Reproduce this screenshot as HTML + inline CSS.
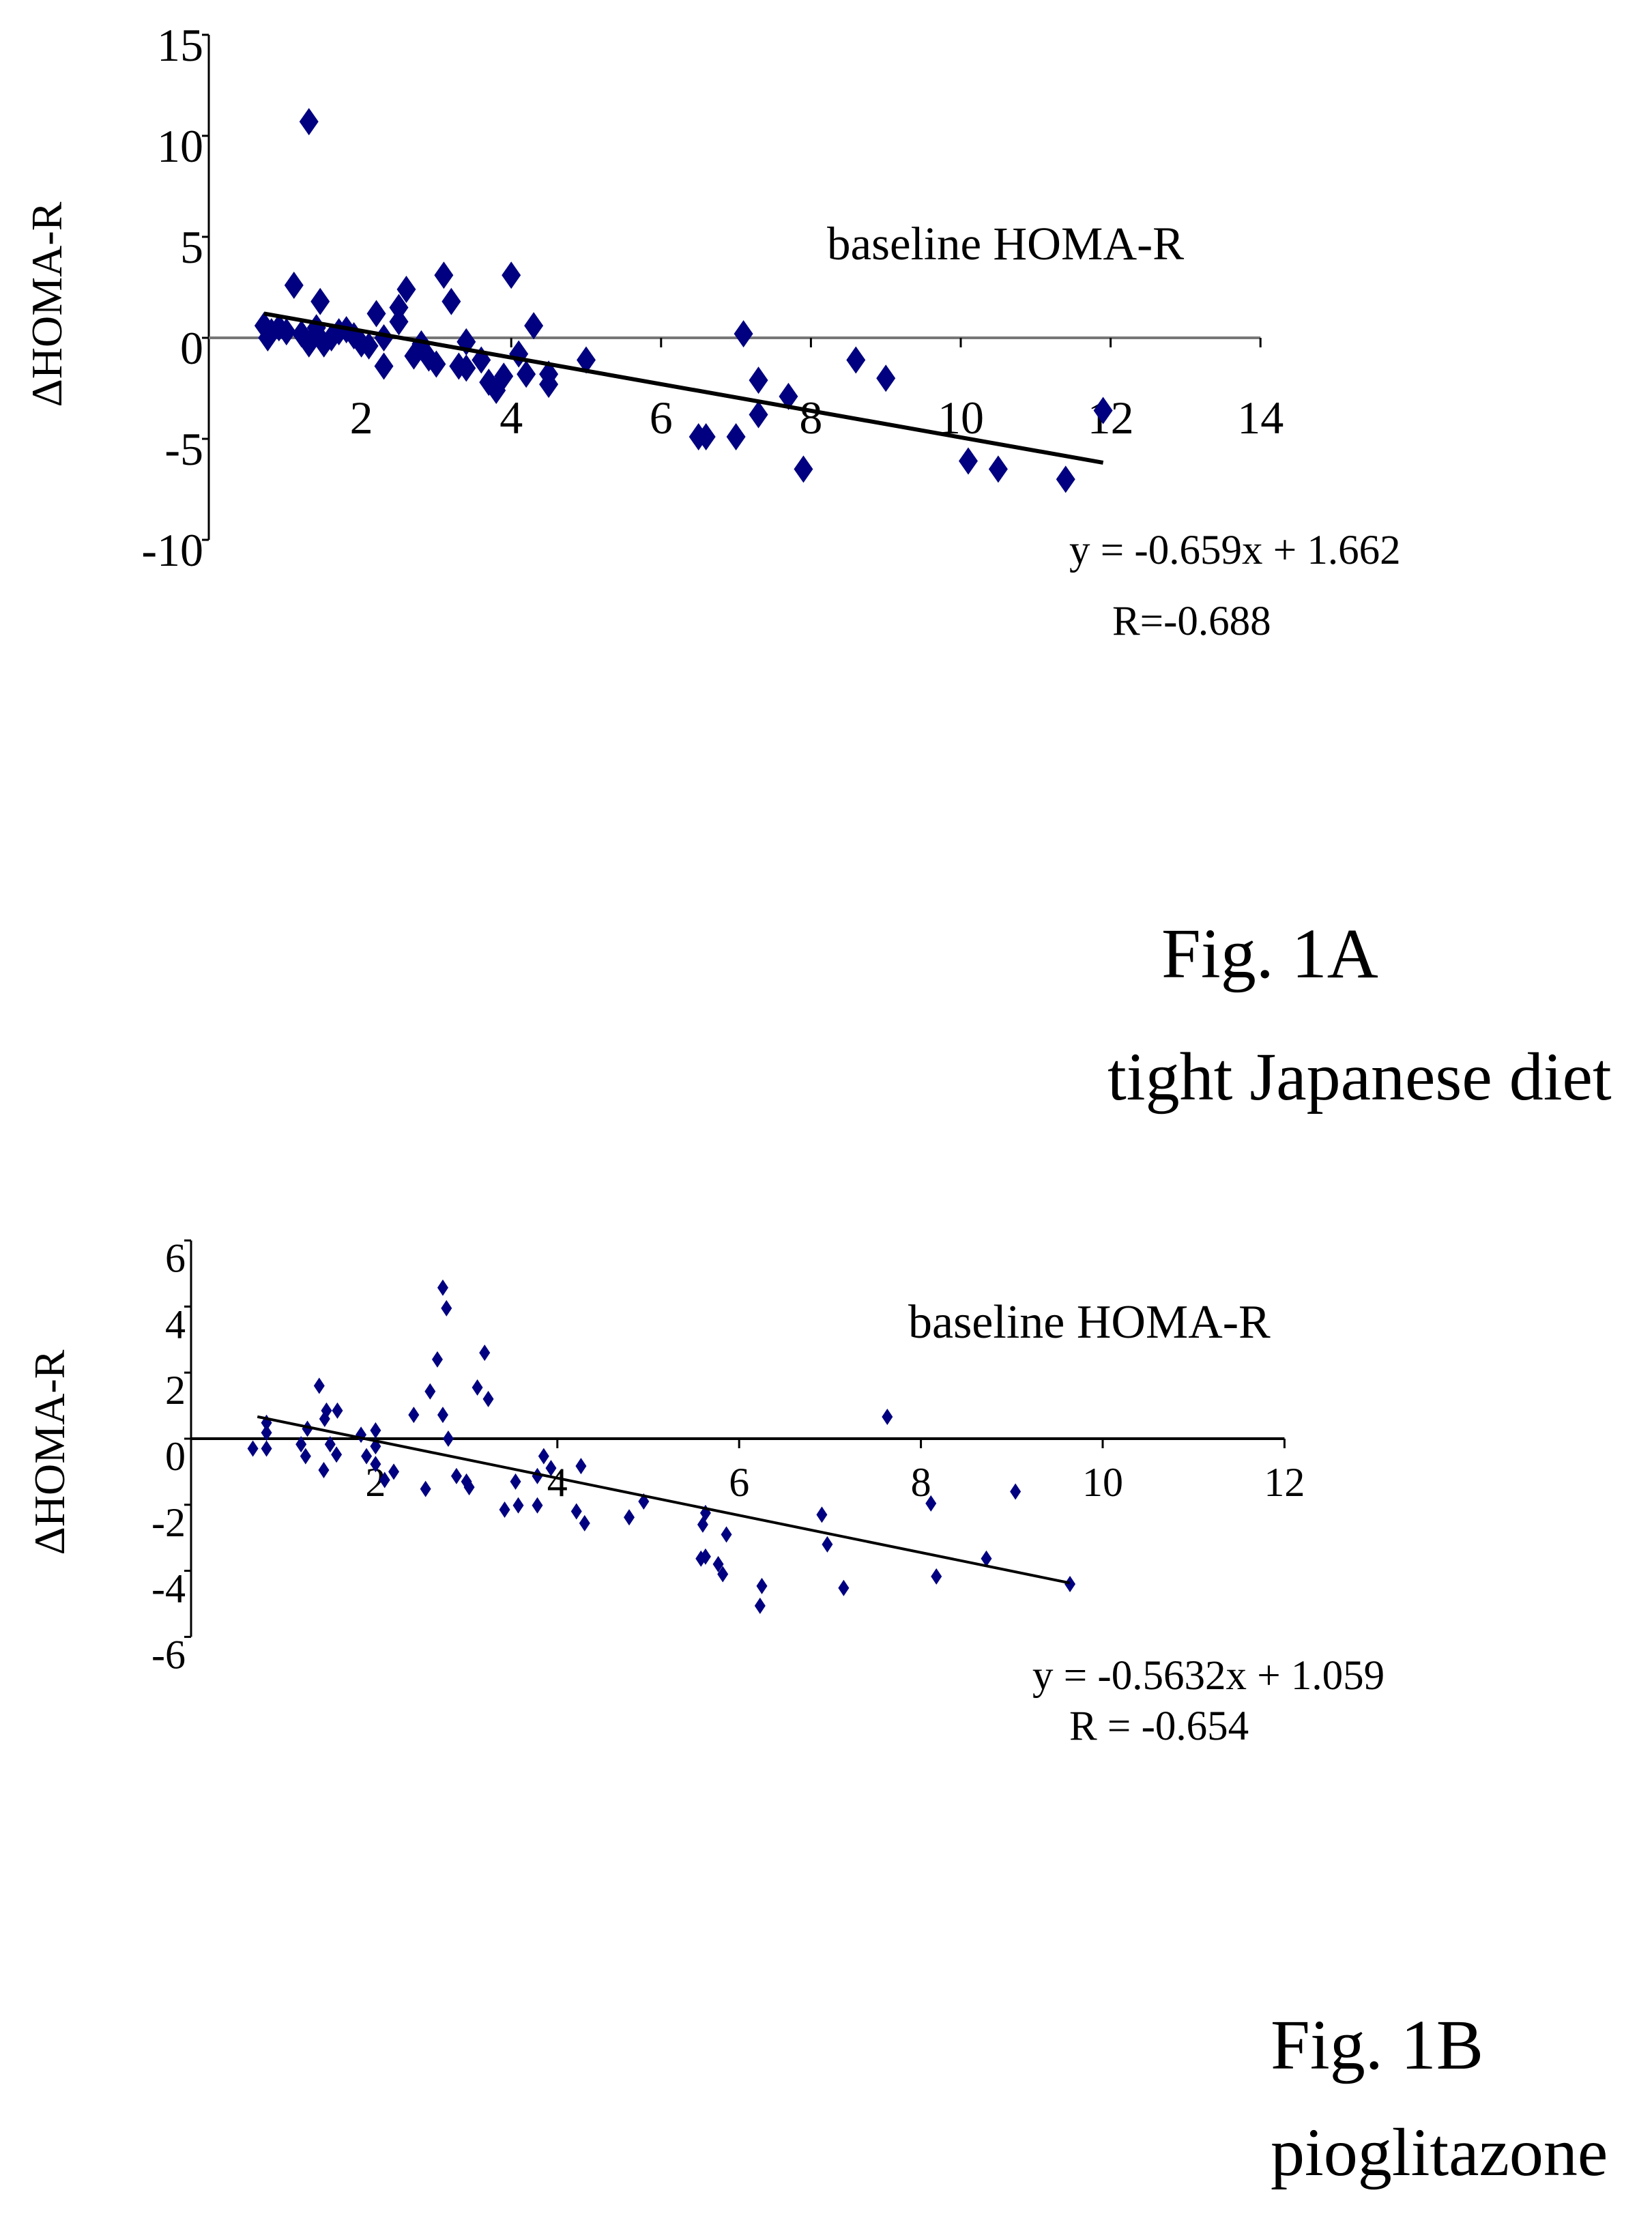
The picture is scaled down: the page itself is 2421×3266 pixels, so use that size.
<!DOCTYPE html>
<html><head><meta charset="utf-8"><style>
html,body{margin:0;padding:0;background:#fff}
svg{display:block}
text{font-family:"Liberation Serif",serif;fill:#000}
</style></head><body>
<svg id="s" width="2421" height="3266" viewBox="0 0 2421 3266">
<text x="1212" y="380" font-size="69">baseline HOMA-R</text>
<text x="1567" y="826" font-size="61">y = -0.659x + 1.662</text>
<text x="1630" y="930" font-size="61">R=-0.688</text>
<text x="1702" y="1432" font-size="104">Fig. 1A</text>
<text x="1623" y="1611" font-size="100">tight Japanese diet</text>
<text transform="translate(90,446) rotate(-90)" text-anchor="middle" font-size="64">ΔHOMA-R</text>
<text x="1331" y="1960" font-size="70">baseline HOMA-R</text>
<text x="1513" y="2475" font-size="61">y = -0.5632x + 1.059</text>
<text x="1567" y="2549" font-size="61">R = -0.654</text>
<text x="1862" y="3031" font-size="104">Fig. 1B</text>
<text x="1862" y="3187" font-size="100">pioglitazone</text>
<text transform="translate(94,2128) rotate(-90)" text-anchor="middle" font-size="64">ΔHOMA-R</text>
<g id="ga"></g>
<g id="gb"></g>
</svg>
<script>
const aX=[0.7,0.75,0.8,0.9,1.0,1.1,1.2,1.3,1.3,1.4,1.45,1.5,1.6,1.7,1.8,1.9,2.0,2.1,2.2,2.3,2.3,2.5,2.5,2.6,2.7,2.8,2.9,3.0,3.1,3.2,3.3,3.4,3.4,3.6,3.7,3.8,3.9,4.0,4.1,4.2,4.3,4.5,4.5,5.0,6.5,6.6,7.0,7.1,7.3,7.3,7.7,7.9,8.6,9.0,10.1,10.5,11.4,11.9];
const aY=[0.6,0,0.3,0.5,0.3,2.6,0.2,-0.3,10.7,0.5,1.8,-0.3,0,0.3,0.4,0.1,-0.3,-0.4,1.2,-1.4,0,1.5,0.8,2.4,-0.9,-0.3,-1.0,-1.3,3.1,1.8,-1.4,-1.5,-0.2,-1.1,-2.2,-2.6,-1.9,3.1,-0.8,-1.8,0.6,-2.3,-1.8,-1.1,-4.9,-4.9,-4.9,0.2,-2.1,-3.8,-2.9,-6.5,-1.1,-2.0,-6.1,-6.5,-7.0,-3.6];
const aXTicks=[2,4,6,8,10,12,14];
const aYTicks=[15,10,5,0,-5,-10];
const aFit=[-0.659,1.662,0.7,11.9];
const bX=[0.65,0.8,0.8,0.8,1.18,1.23,1.25,1.38,1.43,1.44,1.46,1.5,1.57,1.58,1.84,1.9,2.0,2.0,2.0,2.1,2.2,2.42,2.55,2.6,2.68,2.74,2.74,2.78,2.8,2.89,3.0,3.03,3.12,3.2,3.24,3.42,3.54,3.57,3.78,3.78,3.85,3.93,4.21,4.26,4.3,4.79,4.95,5.63,5.6,5.58,5.63,5.77,5.82,5.86,6.23,6.25,6.91,6.97,7.15,7.63,8.11,8.17,8.72,9.04,9.64];
const bY=[-0.3,0.48,0.18,-0.3,-0.17,-0.53,0.3,1.6,-0.95,0.6,0.85,-0.17,-0.48,0.85,0.12,-0.53,0.25,-0.23,-0.77,-1.25,-1.0,0.72,-1.52,1.43,2.4,0.72,4.57,3.95,0,-1.13,-1.3,-1.47,1.55,2.6,1.2,-2.15,-1.3,-2.02,-2.02,-1.13,-0.53,-0.89,-2.2,-0.83,-2.56,-2.38,-1.9,-2.25,-2.6,-3.63,-3.57,-3.8,-4.1,-2.9,-5.06,-4.46,-2.3,-3.2,-4.52,0.66,-1.96,-4.17,-3.63,-1.6,-4.4];
const bXTicks=[2,4,6,8,10,12];
const bYTicks=[6,4,2,0,-2,-4,-6];
const bFit=[-0.5632,1.059,0.7,9.64];
const NS='http://www.w3.org/2000/svg';
function mk(p,t,a){const e=document.createElementNS(NS,t);for(const k in a)e.setAttribute(k,a[k]);p.appendChild(e);return e;}
function draw(g,X,Y,xt,yt,fit,c){
 const sx=v=>c.x0+v*c.kx, sy=v=>c.y0-v*c.ky;
 const ax=mk(g,'line',{x1:c.x0-4,x2:c.x0-4,y1:sy(yt[0]),y2:sy(yt[yt.length-1]),stroke:'#000','stroke-width':3});
 
 
 const hx=mk(g,'line',{x1:c.x0-4,x2:sx(xt[xt.length-1]),y1:c.y0,y2:c.y0,stroke:c.axc,'stroke-width':4});
 
 
 xt.forEach(v=>{
  mk(g,'line',{x1:sx(v),x2:sx(v),y1:c.y0,y2:c.y0+14,stroke:'#000','stroke-width':3});
  const t=mk(g,'text',{x:sx(v),y:c.y0+c.xly,'font-size':c.fs,'text-anchor':'middle'});t.textContent=v;
  
  
 });
 yt.forEach(v=>{
  mk(g,'line',{x1:c.x0-14,x2:c.x0-4,y1:sy(v),y2:sy(v),stroke:'#000','stroke-width':3});
  const t=mk(g,'text',{x:c.x0-12,y:sy(v)+c.yly,'font-size':c.fs,'text-anchor':'end'});t.textContent=v;
  
  
 });
 X.forEach((x,i)=>{
  const px=sx(x),py=sy(Y[i]);
  const p=mk(g,'polygon',{points:`${px},${py-c.mh} ${px+c.mw},${py} ${px},${py+c.mh} ${px-c.mw},${py}`,fill:'#000080'});
  
  
 });
 const l=mk(g,'line',{x1:sx(fit[2]),y1:sy(fit[0]*fit[2]+fit[1]),x2:sx(fit[3]),y2:sy(fit[0]*fit[3]+fit[1]),stroke:'#000','stroke-width':c.lw});
 
 
}
draw(document.getElementById('ga'),aX,aY,aXTicks,aYTicks,aFit,{x0:310,kx:109.8,y0:495,ky:29.6,axc:'#777',fs:68,xly:140,yly:38,mw:14,mh:20,lw:6});
draw(document.getElementById('gb'),bX,bY,bXTicks,bYTicks,bFit,{x0:284,kx:133.2,y0:2108,ky:48.4,axc:'#000',fs:60,xly:84,yly:46,mw:8,mh:12,lw:4});
</script>
</body></html>
